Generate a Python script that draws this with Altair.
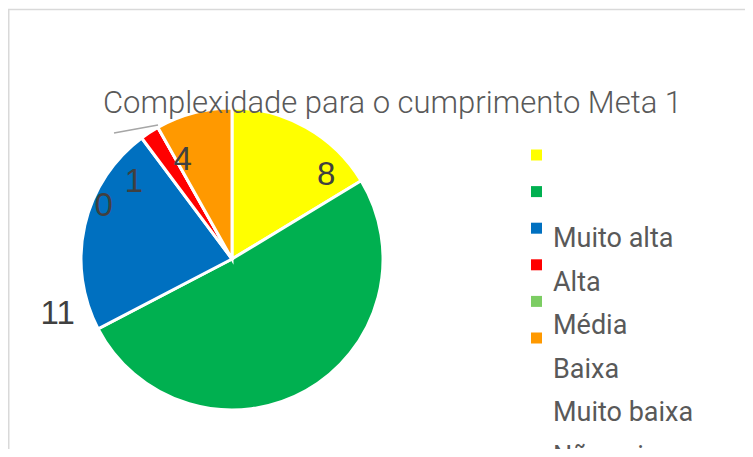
import altair as alt
import pandas as pd

# ---------------- data ----------------
slice_ids = ["s1", "s2", "s3", "s4", "s5", "s6"]
slice_values = [8, 25, 11, 1, 0, 4]
slice_labels = ["8", "", "11", "1", "0", "4"]
slice_colors = ["#FFFF00", "#00B050", "#0070C0", "#FF0000", "#7CCD63", "#FF9900"]
legend_texts = ["Muito alta", "Alta", "Média", "Baixa", "Muito baixa", "Não sei"]
TITLE = "Complexidade para o cumprimento Meta 1"

# ---------------- layout ----------------
W, H = 737, 441
CX, CY, R = 224, 251, 151
label_angle_shift = [19.0, 0.0, -30.5, -18.7, -38.0, -11.7]   # degrees
label_radius = [126, 0, 183, 125, 139, 111]                   # px
FONT = "Roboto, Liberation Sans, sans-serif"

df = pd.DataFrame({
    "id": slice_ids,
    "value": slice_values,
    "label": slice_labels,
    "idx": list(range(len(slice_ids))),
})
lab = df.copy()
lab["shift"] = label_angle_shift
lab["rad"] = label_radius

color_scale = alt.Scale(domain=slice_ids, range=slice_colors)

pie = alt.Chart(df).mark_arc(outerRadius=R, stroke="white", strokeWidth=3).encode(
    theta=alt.Theta("value:Q", stack=True),
    color=alt.Color("id:N", scale=color_scale, legend=None),
    order=alt.Order("idx:Q"),
    x=alt.value(CX),
    y=alt.value(CY),
)

labels = alt.Chart(lab).transform_window(
    cum="sum(value)", sort=[alt.SortField("idx")], frame=[None, 0]
).transform_joinaggregate(
    total="sum(value)"
).transform_calculate(
    ang="((datum.cum - datum.value/2) / datum.total * 360 + datum.shift) * PI / 180",
).transform_calculate(
    lx=f"{CX} + datum.rad * sin(datum.ang)",
    ly=f"{CY} - datum.rad * cos(datum.ang)",
).mark_text(
    font="Liberation Sans, Arial, sans-serif", fontSize=33, color="#404040",
    align="center", baseline="middle",
).encode(
    x=alt.X("lx:Q", scale=None, axis=None),
    y=alt.Y("ly:Q", scale=None, axis=None),
    text="label:N",
)

leg_sq = alt.Chart(df).mark_square(size=121, opacity=1).encode(
    x=alt.value(528.5),
    y=alt.Y("idx:Q", scale=alt.Scale(domain=[0, 5], range=[147, 330]), axis=None),
    color=alt.Color("id:N", scale=color_scale, legend=None),
)

leg_df = pd.DataFrame({"t": legend_texts, "k": list(range(len(legend_texts)))})
leg_txt = alt.Chart(leg_df).mark_text(
    font=FONT, fontSize=27, color="#595959", align="left", baseline="middle",
).encode(
    x=alt.value(545),
    y=alt.Y("k:Q", scale=alt.Scale(domain=[0, 5], range=[231, 449]), axis=None),
    text="t:N",
)

title = alt.Chart(pd.DataFrame({"t": [TITLE]})).mark_text(
    font=FONT, fontSize=31, fontWeight=300, color="#595959", align="center",
    baseline="alphabetic",
).encode(x=alt.value(384.5), y=alt.value(105), text="t:N")

leader = alt.Chart(pd.DataFrame({"a": [0]})).mark_rule(color="#A6A6A6", strokeWidth=1.5).encode(
    x=alt.value(106), y=alt.value(125), x2=alt.value(150), y2=alt.value(117)
)

border_top = alt.Chart(pd.DataFrame({"a": [0]})).mark_rule(color="#D9D9D9", strokeWidth=1.5).encode(
    x=alt.value(0), x2=alt.value(W), y=alt.value(1.5)
)
border_left = alt.Chart(pd.DataFrame({"a": [0]})).mark_rule(color="#D9D9D9", strokeWidth=1.5).encode(
    x=alt.value(0.75), y=alt.value(1), y2=alt.value(H)
)

chart = alt.layer(
    border_top, border_left, pie, labels, leader, leg_sq, leg_txt, title
).resolve_scale(
    x="independent", y="independent", color="shared"
).properties(
    width=W, height=H, padding=0, autosize=alt.AutoSizeParams(type="none"),
    background="white",
).configure_view(stroke=None)

chart.save("out.html", embed_options={"renderer": "svg", "actions": False})
